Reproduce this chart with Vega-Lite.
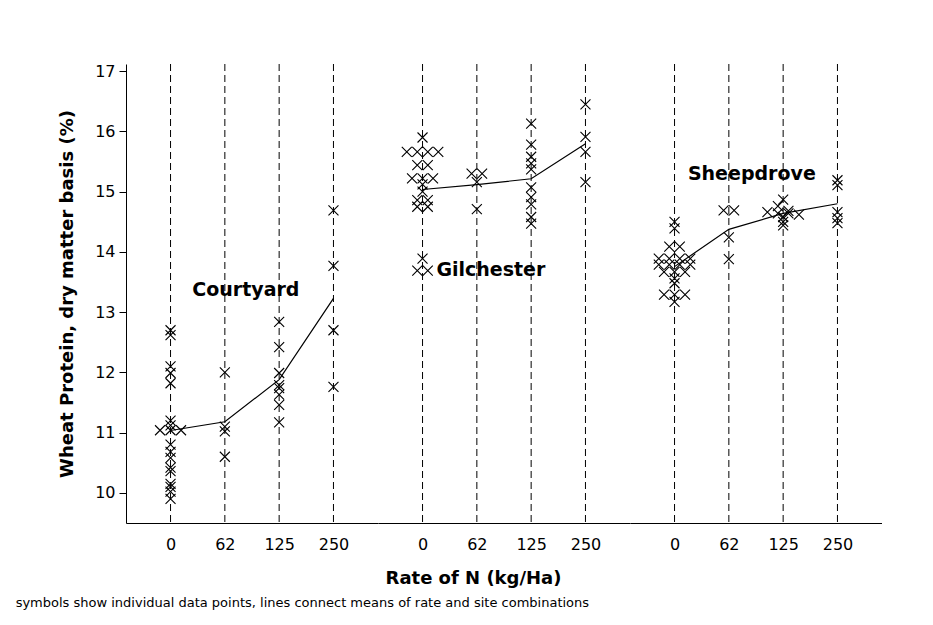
{
  "$schema": "https://vega.github.io/schema/vega-lite/v6.json",
  "padding": {"left": 15, "top": 63, "right": 0, "bottom": 0},
  "spacing": 0,
  "datasets": {
    "points": [
      {"site": "Courtyard", "rate": 0, "protein": 12.7},
      {"site": "Courtyard", "rate": 0, "protein": 12.62},
      {"site": "Courtyard", "rate": 0, "protein": 12.1},
      {"site": "Courtyard", "rate": 0, "protein": 11.99},
      {"site": "Courtyard", "rate": 0, "protein": 11.82},
      {"site": "Courtyard", "rate": 0, "protein": 11.2},
      {"site": "Courtyard", "rate": 0, "protein": 11.12},
      {"site": "Courtyard", "rate": 0, "protein": 11.04, "dup": -1},
      {"site": "Courtyard", "rate": 0, "protein": 11.04},
      {"site": "Courtyard", "rate": 0, "protein": 11.04, "dup": 1},
      {"site": "Courtyard", "rate": 0, "protein": 10.8},
      {"site": "Courtyard", "rate": 0, "protein": 10.68},
      {"site": "Courtyard", "rate": 0, "protein": 10.58},
      {"site": "Courtyard", "rate": 0, "protein": 10.42},
      {"site": "Courtyard", "rate": 0, "protein": 10.36},
      {"site": "Courtyard", "rate": 0, "protein": 10.15},
      {"site": "Courtyard", "rate": 0, "protein": 10.1},
      {"site": "Courtyard", "rate": 0, "protein": 10.02},
      {"site": "Courtyard", "rate": 0, "protein": 9.9},
      {"site": "Courtyard", "rate": 62, "protein": 12.0},
      {"site": "Courtyard", "rate": 62, "protein": 11.1},
      {"site": "Courtyard", "rate": 62, "protein": 11.02},
      {"site": "Courtyard", "rate": 62, "protein": 10.6},
      {"site": "Courtyard", "rate": 125, "protein": 12.84},
      {"site": "Courtyard", "rate": 125, "protein": 12.42},
      {"site": "Courtyard", "rate": 125, "protein": 11.99},
      {"site": "Courtyard", "rate": 125, "protein": 11.79},
      {"site": "Courtyard", "rate": 125, "protein": 11.74},
      {"site": "Courtyard", "rate": 125, "protein": 11.63},
      {"site": "Courtyard", "rate": 125, "protein": 11.46},
      {"site": "Courtyard", "rate": 125, "protein": 11.17},
      {"site": "Courtyard", "rate": 250, "protein": 14.69},
      {"site": "Courtyard", "rate": 250, "protein": 13.77},
      {"site": "Courtyard", "rate": 250, "protein": 12.7},
      {"site": "Courtyard", "rate": 250, "protein": 11.76},
      {"site": "Gilchester", "rate": 0, "protein": 15.9},
      {"site": "Gilchester", "rate": 0, "protein": 15.66, "dup": -1.5},
      {"site": "Gilchester", "rate": 0, "protein": 15.66, "dup": -0.5},
      {"site": "Gilchester", "rate": 0, "protein": 15.66, "dup": 0.5},
      {"site": "Gilchester", "rate": 0, "protein": 15.66, "dup": 1.5},
      {"site": "Gilchester", "rate": 0, "protein": 15.44, "dup": -0.5},
      {"site": "Gilchester", "rate": 0, "protein": 15.44, "dup": 0.5},
      {"site": "Gilchester", "rate": 0, "protein": 15.22, "dup": -1},
      {"site": "Gilchester", "rate": 0, "protein": 15.22},
      {"site": "Gilchester", "rate": 0, "protein": 15.22, "dup": 1},
      {"site": "Gilchester", "rate": 0, "protein": 15.12},
      {"site": "Gilchester", "rate": 0, "protein": 15.0},
      {"site": "Gilchester", "rate": 0, "protein": 14.86, "dup": -0.5},
      {"site": "Gilchester", "rate": 0, "protein": 14.86, "dup": 0.5},
      {"site": "Gilchester", "rate": 0, "protein": 14.75, "dup": -0.5},
      {"site": "Gilchester", "rate": 0, "protein": 14.75, "dup": 0.5},
      {"site": "Gilchester", "rate": 0, "protein": 13.89},
      {"site": "Gilchester", "rate": 0, "protein": 13.69, "dup": -0.5},
      {"site": "Gilchester", "rate": 0, "protein": 13.69, "dup": 0.5},
      {"site": "Gilchester", "rate": 62, "protein": 15.3, "dup": -0.5},
      {"site": "Gilchester", "rate": 62, "protein": 15.3, "dup": 0.5},
      {"site": "Gilchester", "rate": 62, "protein": 15.16},
      {"site": "Gilchester", "rate": 62, "protein": 14.71},
      {"site": "Gilchester", "rate": 125, "protein": 16.13},
      {"site": "Gilchester", "rate": 125, "protein": 15.78},
      {"site": "Gilchester", "rate": 125, "protein": 15.58},
      {"site": "Gilchester", "rate": 125, "protein": 15.47},
      {"site": "Gilchester", "rate": 125, "protein": 15.37},
      {"site": "Gilchester", "rate": 125, "protein": 15.07},
      {"site": "Gilchester", "rate": 125, "protein": 14.91},
      {"site": "Gilchester", "rate": 125, "protein": 14.79},
      {"site": "Gilchester", "rate": 125, "protein": 14.58},
      {"site": "Gilchester", "rate": 125, "protein": 14.47},
      {"site": "Gilchester", "rate": 250, "protein": 16.45},
      {"site": "Gilchester", "rate": 250, "protein": 15.91},
      {"site": "Gilchester", "rate": 250, "protein": 15.66},
      {"site": "Gilchester", "rate": 250, "protein": 15.16},
      {"site": "Sheepdrove", "rate": 0, "protein": 14.5},
      {"site": "Sheepdrove", "rate": 0, "protein": 14.39},
      {"site": "Sheepdrove", "rate": 0, "protein": 14.09, "dup": -0.5},
      {"site": "Sheepdrove", "rate": 0, "protein": 14.09, "dup": 0.5},
      {"site": "Sheepdrove", "rate": 0, "protein": 13.89, "dup": -1.5},
      {"site": "Sheepdrove", "rate": 0, "protein": 13.89, "dup": -0.5},
      {"site": "Sheepdrove", "rate": 0, "protein": 13.89, "dup": 0.5},
      {"site": "Sheepdrove", "rate": 0, "protein": 13.89, "dup": 1.5},
      {"site": "Sheepdrove", "rate": 0, "protein": 13.79, "dup": -1.5},
      {"site": "Sheepdrove", "rate": 0, "protein": 13.79, "dup": -0.5},
      {"site": "Sheepdrove", "rate": 0, "protein": 13.79, "dup": 0.5},
      {"site": "Sheepdrove", "rate": 0, "protein": 13.79, "dup": 1.5},
      {"site": "Sheepdrove", "rate": 0, "protein": 13.67, "dup": -1},
      {"site": "Sheepdrove", "rate": 0, "protein": 13.67},
      {"site": "Sheepdrove", "rate": 0, "protein": 13.67, "dup": 1},
      {"site": "Sheepdrove", "rate": 0, "protein": 13.56},
      {"site": "Sheepdrove", "rate": 0, "protein": 13.48},
      {"site": "Sheepdrove", "rate": 0, "protein": 13.29, "dup": -1},
      {"site": "Sheepdrove", "rate": 0, "protein": 13.29},
      {"site": "Sheepdrove", "rate": 0, "protein": 13.29, "dup": 1},
      {"site": "Sheepdrove", "rate": 0, "protein": 13.17},
      {"site": "Sheepdrove", "rate": 62, "protein": 14.69, "dup": -0.5},
      {"site": "Sheepdrove", "rate": 62, "protein": 14.69, "dup": 0.5},
      {"site": "Sheepdrove", "rate": 62, "protein": 14.24},
      {"site": "Sheepdrove", "rate": 62, "protein": 13.88},
      {"site": "Sheepdrove", "rate": 125, "protein": 14.87},
      {"site": "Sheepdrove", "rate": 125, "protein": 14.76, "dup": -0.5},
      {"site": "Sheepdrove", "rate": 125, "protein": 14.68, "dup": 0.5},
      {"site": "Sheepdrove", "rate": 125, "protein": 14.66, "dup": -1.5},
      {"site": "Sheepdrove", "rate": 125, "protein": 14.64, "dup": -0.5},
      {"site": "Sheepdrove", "rate": 125, "protein": 14.64, "dup": 0.5},
      {"site": "Sheepdrove", "rate": 125, "protein": 14.62, "dup": 1.5},
      {"site": "Sheepdrove", "rate": 125, "protein": 14.58},
      {"site": "Sheepdrove", "rate": 125, "protein": 14.5},
      {"site": "Sheepdrove", "rate": 125, "protein": 14.44},
      {"site": "Sheepdrove", "rate": 250, "protein": 15.19},
      {"site": "Sheepdrove", "rate": 250, "protein": 15.11},
      {"site": "Sheepdrove", "rate": 250, "protein": 14.66},
      {"site": "Sheepdrove", "rate": 250, "protein": 14.56},
      {"site": "Sheepdrove", "rate": 250, "protein": 14.48}
    ],
    "labels": [
      {"site": "Courtyard", "rate": 62, "at": 13.37},
      {"site": "Gilchester", "rate": 62, "at": 13.7},
      {"site": "Sheepdrove", "rate": 62, "at": 15.29}
    ]
  },
  "title": {
    "text": "symbols show individual data points, lines connect means of rate and site combinations",
    "orient": "bottom",
    "anchor": "start",
    "font": "DejaVu Sans",
    "fontSize": 13,
    "fontWeight": "normal",
    "color": "black",
    "dx": -43,
    "offset": 10
  },
  "hconcat": [
    {
      "width": 252,
      "height": 459,
      "encoding": {
        "x": {
          "field": "rate",
          "type": "ordinal",
          "scale": {"type": "point", "padding": 0.82},
          "axis": {"title": null}
        },
        "y": {
          "field": "protein",
          "type": "quantitative",
          "scale": {"domain": [9.5, 17.12], "nice": false, "zero": false},
          "axis": {
            "title": "Wheat Protein, dry matter basis (%)",
            "values": [10, 11, 12, 13, 14, 15, 16, 17],
            "tickSize": 7,
            "labelPadding": 4,
            "titlePadding": 18
          }
        }
      },
      "layer": [
        {
          "data": {"name": "points"},
          "transform": [
            {"filter": "datum.site == 'Courtyard'"},
            {"aggregate": [{"op": "count", "as": "n"}], "groupby": ["rate"]}
          ],
          "mark": {"type": "rule", "strokeDash": [7, 4], "color": "black"},
          "encoding": {"y": null}
        },
        {
          "data": {"name": "points"},
          "transform": [{"filter": "datum.site == 'Courtyard'"}],
          "mark": {"type": "line", "color": "black", "strokeWidth": 1.2},
          "encoding": {"y": {"aggregate": "mean", "field": "protein", "type": "quantitative"}}
        },
        {
          "data": {"name": "points"},
          "transform": [{"filter": "datum.site == 'Courtyard'"}],
          "mark": {
            "type": "point",
            "shape": "M-1,-1L1,1M-1,1L1,-1",
            "filled": false,
            "color": "black",
            "opacity": 1,
            "size": 100,
            "strokeWidth": 1.1,
            "xOffset": {"expr": "(datum.dup || 0) * 10.5"}
          }
        },
        {
          "data": {"name": "labels"},
          "transform": [{"filter": "datum.site == 'Courtyard'"}],
          "mark": {"type": "text", "font": "DejaVu Sans", "fontSize": 19, "fontWeight": "bold", "color": "black", "dx": 21},
          "encoding": {
            "y": {"field": "at", "type": "quantitative"},
            "text": {"field": "site"}
          }
        }
      ]
    },
    {
      "width": 252,
      "height": 459,
      "encoding": {
        "x": {
          "field": "rate",
          "type": "ordinal",
          "scale": {"type": "point", "padding": 0.82},
          "axis": {"title": "Rate of N  (kg/Ha)", "titleX": 95, "titlePadding": 17}
        },
        "y": {
          "field": "protein",
          "type": "quantitative",
          "scale": {"domain": [9.5, 17.12], "nice": false, "zero": false},
          "axis": null
        }
      },
      "layer": [
        {
          "data": {"name": "points"},
          "transform": [
            {"filter": "datum.site == 'Gilchester'"},
            {"aggregate": [{"op": "count", "as": "n"}], "groupby": ["rate"]}
          ],
          "mark": {"type": "rule", "strokeDash": [7, 4], "color": "black"},
          "encoding": {"y": null}
        },
        {
          "data": {"name": "points"},
          "transform": [{"filter": "datum.site == 'Gilchester'"}],
          "mark": {"type": "line", "color": "black", "strokeWidth": 1.2},
          "encoding": {"y": {"aggregate": "mean", "field": "protein", "type": "quantitative"}}
        },
        {
          "data": {"name": "points"},
          "transform": [{"filter": "datum.site == 'Gilchester'"}],
          "mark": {
            "type": "point",
            "shape": "M-1,-1L1,1M-1,1L1,-1",
            "filled": false,
            "color": "black",
            "opacity": 1,
            "size": 100,
            "strokeWidth": 1.1,
            "xOffset": {"expr": "(datum.dup || 0) * 10.5"}
          }
        },
        {
          "data": {"name": "labels"},
          "transform": [{"filter": "datum.site == 'Gilchester'"}],
          "mark": {"type": "text", "font": "DejaVu Sans", "fontSize": 19, "fontWeight": "bold", "color": "black", "dx": 14},
          "encoding": {
            "y": {"field": "at", "type": "quantitative"},
            "text": {"field": "site"}
          }
        }
      ]
    },
    {
      "width": 252,
      "height": 459,
      "encoding": {
        "x": {
          "field": "rate",
          "type": "ordinal",
          "scale": {"type": "point", "padding": 0.82},
          "axis": {"title": null}
        },
        "y": {
          "field": "protein",
          "type": "quantitative",
          "scale": {"domain": [9.5, 17.12], "nice": false, "zero": false},
          "axis": null
        }
      },
      "layer": [
        {
          "data": {"name": "points"},
          "transform": [
            {"filter": "datum.site == 'Sheepdrove'"},
            {"aggregate": [{"op": "count", "as": "n"}], "groupby": ["rate"]}
          ],
          "mark": {"type": "rule", "strokeDash": [7, 4], "color": "black"},
          "encoding": {"y": null}
        },
        {
          "data": {"name": "points"},
          "transform": [{"filter": "datum.site == 'Sheepdrove'"}],
          "mark": {"type": "line", "color": "black", "strokeWidth": 1.2},
          "encoding": {"y": {"aggregate": "mean", "field": "protein", "type": "quantitative"}}
        },
        {
          "data": {"name": "points"},
          "transform": [{"filter": "datum.site == 'Sheepdrove'"}],
          "mark": {
            "type": "point",
            "shape": "M-1,-1L1,1M-1,1L1,-1",
            "filled": false,
            "color": "black",
            "opacity": 1,
            "size": 100,
            "strokeWidth": 1.1,
            "xOffset": {"expr": "(datum.dup || 0) * 10.5"}
          }
        },
        {
          "data": {"name": "labels"},
          "transform": [{"filter": "datum.site == 'Sheepdrove'"}],
          "mark": {"type": "text", "font": "DejaVu Sans", "fontSize": 19, "fontWeight": "bold", "color": "black", "dx": 23},
          "encoding": {
            "y": {"field": "at", "type": "quantitative"},
            "text": {"field": "site"}
          }
        }
      ]
    }
  ],
  "resolve": {"scale": {"x": "independent", "y": "independent"}},
  "config": {
    "view": {"stroke": null},
    "axis": {
      "grid": false,
      "labelFont": "DejaVu Sans",
      "labelFontSize": 16,
      "labelColor": "black",
      "titleFont": "DejaVu Sans",
      "titleFontSize": 18,
      "titleFontWeight": "bold",
      "titleColor": "black",
      "domainColor": "black",
      "tickColor": "black"
    },
    "axisX": {"labelAngle": 0, "ticks": false, "labelPadding": 13}
  }
}
